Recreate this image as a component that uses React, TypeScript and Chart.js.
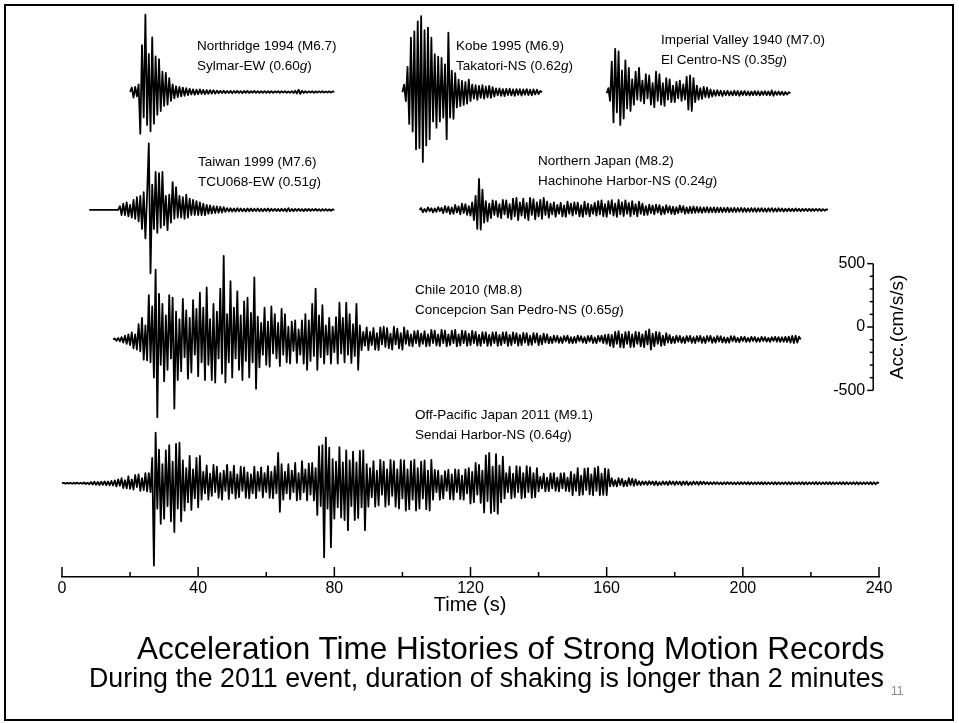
import React, { useEffect, useRef } from 'react';
import { Chart, registerables } from 'chart.js';

Chart.register(...registerables);

const FONT = "'Liberation Sans', Arial, Helvetica, sans-serif";

// ---- time axis ----
const X_MIN = 0;
const X_MAX = 240;
const X_TICKS = [0, 20, 40, 60, 80, 100, 120, 140, 160, 180, 200, 220, 240];
const X_LABELED = [0, 40, 80, 120, 160, 200, 240];

// ---- acceleration scale bar (cm/s/s) ----
const SCALE_TICKS = [-500, -400, -300, -200, -100, 0, 100, 200, 300, 400, 500];
const SCALE_LABELED = [500, 0, -500];

// ---- records: acceleration (cm/s/s), sampled every 0.5 s from each record's start time ----
const SAMPLE_STEP = 0.5;

const NORTHRIDGE = [
  0, 35, -45, 40, -35, 60, -330, 370, -200, 610,
  -260, 300, -310, 430, -250, 280, -180, 260, -150, 160,
  -110, 150, -100, 110, -70, 60, -50, 45, -40, 40,
  -35, 35, -30, 30, -25, 25, -20, 20, -22, 18,
  -18, 20, -15, 16, -18, 14, -14, 15, -12, 14,
  -13, 11, -10, 9, -8, 10, -9, 8, -8, 9,
  -10, 8, -7, 9, -8, 7, -9, 8, -7, 8,
  -8, 6, -6, 8, -7, 7, -8, 6, -6, 7,
  -7, 6, -6, 7, -7, 5, -5, 6, -6, 6,
  -5, 7, -6, 5, -7, 6, -8, 10, -12, 18,
  -15, 10, -8, 6, -6, 5, -5, 6, -6, 5,
  -5, 5, -4, 6, -5, 4, -4, 5, -5, 4,
  0,
];

const KOBE = [
  0, 60, -70, 200, -250, 430, -310, 480, -450, 560,
  -440, 600, -550, 490, -420, 510, -370, 430, -230, 300,
  -280, 280, -230, 270, -200, 220, -370, 470, -200, 170,
  -210, 150, -120, 100, -110, 90, -100, 80, -90, 100,
  -70, 60, -50, 55, -60, 50, -45, 55, -50, 45,
  -40, 50, -45, 40, -35, 30, -25, 30, -28, 25,
  -30, 26, -22, 28, -25, 22, -28, 25, -20, 24,
  -26, 22, -20, 25, -22, 20, -24, 22, -18, 20,
  -15, 10, 0,
];

const IMPERIAL_VALLEY = [
  0, 40, -60, 250, -230, 350, -150, 330, -250, 180,
  -200, 260, -120, 200, -140, 110, -90, 170, -50, 200,
  -60, 100, -80, 150, -40, 140, -90, 80, -110, 170,
  -60, 150, -90, 80, -100, 120, -50, 110, -70, 60,
  -70, 90, -40, 100, -60, 70, -50, 130, -130, 140,
  -140, 120, -70, 60, -50, 40, -45, 50, -30, 45,
  -35, 30, -25, 22, -20, 24, -18, 20, -22, 18,
  -16, 20, -18, 15, -17, 20, -15, 18, -20, 16,
  -14, 18, -16, 15, -18, 14, -15, 17, -14, 16,
  -18, 15, -13, 16, -15, 14, -16, 22, -20, 14,
  -12, 14, -13, 12, -14, 10, -10, 8, 0,
];

const TAIWAN = [
  0, 0, 0, 0, 0, 0, 0, 0, 0, 0,
  0, 0, 0, 0, 0, 0, 0, 0,
  30, -40, 50, -40, 60, -50, 40, -60, 80, -70,
  100, -90, 110, -150, 140, -225, 120, 525, -500, 200,
  -150, 300, -180, 290, -140, 300, -120, 110, -160, 120,
  -100, 220, -70, 180, -60, 110, -60, 100, -70, 120,
  -60, 90, -40, 80, -40, 70, -40, 60, -40, 50,
  -40, 40, -30, 35, -28, 30, -25, 28, -22, 25,
  -20, 22, -15, 14, -12, 13, -12, 11, -12, 13,
  -10, 12, -11, 10, -12, 11, -10, 12, -11, 10,
  -9, 11, -10, 9, -11, 10, -9, 12, -10, 9,
  -8, 10, -9, 8, -10, 9, -8, 10, -12, 14,
  -10, 8, -9, 8, -7, 9, -8, 7, -9, 8,
  -7, 8, -8, 7, -6, 8, -7, 6, -8, 7,
  -6, 7, -6, 5, -6, 5, 0,
];

const NORTHERN_JAPAN = [
  0, 15, -18, 8, -15, 20, -10, 14, -20, 12,
  -14, 22, -10, 16, -25, 30, -18, 25, -32, 20,
  -30, 40, -20, 28, -35, 50, -25, 45, -38, 30,
  -45, 60, -80, 110, -150, 245, -155, 160, -100, 70,
  -90, 50, -65, 75, -40, 70, -55, 45, -65, 80,
  -35, 75, -60, 45, -75, 90, -50, 95, -80, 60,
  -45, 90, -65, 55, -80, 95, -40, 85, -75, 60,
  -50, 80, -70, 95, -40, 65, -60, 50, -35, 60,
  -55, 40, -30, 55, -50, 35, -55, 65, -30, 50,
  -45, 60, -30, 58, -50, 35, -55, 65, -35, 50,
  -50, 40, -30, 55, -45, 70, -35, 75, -50, 45,
  -55, 70, -30, 78, -45, 50, -55, 80, -35, 60,
  -48, 75, -30, 55, -50, 70, -35, 45, -50, 65,
  -30, 50, -40, 30, -38, 42, -25, 35, -35, 42,
  -20, 38, -36, 25, -32, 38, -20, 30, -30, 25,
  -34, 22, -25, 35, -18, 30, -30, 20, -26, 25,
  -25, 27, -22, 24, -20, 22, -22, 20, -18, 22,
  -20, 19, -18, 20, -20, 18, -17, 19, -18, 16,
  -16, 18, -17, 15, -15, 17, -16, 15, -14, 16,
  -15, 14, -16, 13, -14, 15, -13, 14, -15, 13,
  -12, 14, -13, 12, -14, 13, -12, 14, -13, 11,
  -12, 13, -11, 12, -12, 10, -10, 12, -11, 10,
  -10, 11, -9, 10, -10, 9, -9, 10, -8, 9,
  -9, 8, -8, 9, -7, 8, -8, 7, -6, 5,
  0,
];

const CHILE = [
  0, 8, -10, 12, -15, 18, -25, 30, -35, 40,
  -45, 55, -70, 40, -80, 120, -95, 170, -160, 110,
  -165, 350, -180, 260, -300, 550, -615, 360, -200, 280,
  -330, 190, -240, 350, -150, 330, -545, 220, -320, 160,
  -250, 320, -140, 230, -310, 170, -260, 310, -120, 240,
  -290, 370, -180, 250, -320, 410, -200, 160, -320, 280,
  -340, 220, -150, 400, -270, 660, -340, 200, -180, 460,
  -300, 250, -150, 380, -240, 190, -320, 300, -170, 330,
  -300, 210, -180, 490, -390, 180, -220, 130, -120, 250,
  -200, 140, -215, 260, -110, 200, -150, 130, -210, 240,
  -120, 200, -180, 100, -190, 140, -90, 150, -185, 80,
  -120, 150, -190, 200, -240, 150, -170, 280, -130, 400,
  -240, 190, -140, 270, -190, 110, -120, 170, -190, 100,
  -100, 175, -190, 290, -110, 170, -180, 290, -120, 200,
  -185, 120, -130, 280, -240, 110, -85, 60, -50, 95,
  -85, 60, -45, 90, -80, 50, -85, 95, -40, 100,
  -60, 90, -70, 45, -80, 100, -40, 85, -70, 50,
  -80, 95, -35, 70, -50, 40, -55, 65, -30, 70,
  -55, 45, -35, 65, -55, 40, -50, 75, -30, 70,
  -48, 40, -52, 75, -30, 70, -55, 40, -45, 70,
  -30, 75, -55, 40, -48, 70, -30, 65, -50, 45,
  -45, 68, -30, 60, -48, 35, -50, 58, -30, 55,
  -50, 35, -48, 55, -30, 58, -50, 35, -45, 55,
  -30, 58, -50, 35, -45, 55, -30, 50, -48, 35,
  -45, 52, -25, 50, -45, 30, -42, 50, -25, 48,
  -44, 30, -38, 45, -25, 40, -30, 20, -28, 30,
  -18, 28, -26, 18, -28, 27, -15, 30, -28, 18,
  -30, 20, -26, 30, -15, 26, -25, 18, -30, 27,
  -17, 30, -28, 16, -30, 28, -16, 30, -28, 35,
  -35, 40, -50, 35, -60, 60, -35, 65, -60, 40,
  -65, 58, -35, 62, -60, 40, -58, 60, -35, 55,
  -55, 40, -60, 65, -40, 80, -80, 45, -55, 60,
  -35, 55, -50, 30, -45, 50, -25, 35, -30, 20,
  -28, 30, -18, 28, -26, 18, -28, 27, -16, 28,
  -27, 18, -28, 26, -16, 28, -26, 18, -28, 27,
  -15, 28, -27, 16, -25, 27, -16, 25, -24, 16,
  -26, 14, -25, 26, -14, 25, -20, 12, -22, 20,
  -12, 21, -20, 12, -18, 20, -12, 19, -19, 12,
  -18, 20, -12, 18, -17, 12, -19, 18, -12, 20,
  -17, 18, -19, 17, -18, 20, -20, 22, -25, 28,
  -28, 30, -25, 22, 0,
];

const OFF_PACIFIC = [
  0, 3, -4, 3, -3, 4, -4, 3, -3, 5,
  -5, 4, -4, 6, -6, 5, -8, 10, -10, 12,
  -12, 11, -14, 13, -12, 15, -15, 14, -16, 18,
  -18, 22, -25, 30, -20, 40, -38, 25, -40, 55,
  -45, 30, -50, 65, -30, 70, -60, 40, -55, 80,
  -65, 80, -70, 200, -650, 400, -200, 265, -320, 150,
  -280, 260, -180, 300, -300, 170, -385, 310, -200, 320,
  -300, 180, -215, 120, -150, 215, -210, 110, -120, 200,
  -190, 215, -130, 90, -80, 140, -130, 75, -100, 145,
  -70, 130, -115, 80, -130, 100, -60, 145, -125, 90,
  -80, 138, -120, 70, -110, 130, -60, 125, -115, 85,
  -120, 70, -80, 130, -118, 90, -60, 125, -112, 80,
  -70, 135, -115, 90, -118, 132, -80, 240, -225, 150,
  -130, 90, -80, 150, -125, 100, -70, 160, -135, 80,
  -128, 175, -70, 110, -135, 155, -90, 160, -135, 120,
  -250, 290, -180, 300, -585, 360, -200, 280, -505, 190,
  -280, 170, -190, 285, -270, 165, -290, 260, -370, 180,
  -180, 250, -290, 165, -275, 255, -190, 260, -370, 150,
  -185, 120, -110, 175, -185, 100, -175, 185, -90, 170,
  -185, 110, -170, 185, -100, 175, -185, 110, -200, 185,
  -120, 180, -215, 110, -205, 175, -130, 185, -215, 120,
  -200, 170, -120, 180, -205, 100, -215, 185, -130, 105,
  -70, 100, -130, 60, -120, 95, -60, 105, -125, 70,
  -130, 110, -70, 105, -125, 60, -130, 110, -80, 120,
  -160, 90, -150, 160, -90, 145, -155, 100, -230, 220,
  -140, 240, -235, 130, -220, 230, -240, 140, -150, 210,
  -120, 80, -70, 130, -120, 75, -110, 135, -70, 128,
  -120, 80, -112, 135, -70, 125, -115, 80, -110, 120,
  -65, 50, -40, 75, -65, 45, -62, 78, -40, 80,
  -60, 45, -65, 78, -40, 80, -60, 45, -65, 90,
  -95, 70, -60, 120, -95, 60, -90, 115, -55, 120,
  -88, 70, -95, 120, -60, 130, -95, 75, -92, 115,
  -95, 110, -25, 40, -22, 25, -25, 40, -15, 35,
  -24, 20, -22, 40, -15, 36, -20, 30, -15, 16,
  -14, 15, -10, 14, -13, 16, -9, 14, -14, 15,
  -16, 9, -13, 15, -10, 13, -14, 16, -9, 14,
  -13, 15, -9, 13, -15, 14, -10, 15, -14, 9,
  -12, 14, -9, 12, -12, 13, -8, 12, -8, 9,
  -9, 8, -8, 9, -7, 8, -8, 7, -9, 8,
  -8, 9, -7, 8, -8, 7, -9, 8, -8, 9,
  -7, 8, -8, 9, -9, 8, -8, 7, -7, 8,
  -8, 9, -9, 8, -8, 7, -7, 8, -8, 9,
  -9, 8, -8, 7, -7, 8, -8, 9, -9, 8,
  -8, 7, -7, 8, -8, 9, -9, 8, -8, 7,
  -7, 8, -8, 9, -9, 8, -8, 7, -7, 8,
  -8, 9, -9, 8, -8, 7, -7, 8, -8, 9,
  -9, 8, -8, 7, -7, 8, -8, 9, -9, 8,
  -8, 7, -7, 8, -8, 9, -9, 8, -8, 7,
  0,
];

// record start times (s) and vertical stacking offsets (cm/s/s)
const RECORDS = [
  { name: 'Northridge', start: 20, offset: 3828, values: NORTHRIDGE },
  { name: 'Kobe', start: 100, offset: 3826, values: KOBE },
  { name: 'Imperial Valley', start: 160, offset: 3818, values: IMPERIAL_VALLEY },
  { name: 'Taiwan', start: 8, offset: 2897, values: TAIWAN },
  { name: 'Northern Japan', start: 105, offset: 2897, values: NORTHERN_JAPAN },
  { name: 'Chile', start: 15, offset: 1875, values: CHILE },
  { name: 'Off-Pacific', start: 0, offset: 740, values: OFF_PACIFIC },
];

const Y_MAX = 4475;
const SCALE_BASE = 1973;
const SCALE_AT_TIME = 238.3;

const LABELS = [
  { event: 'Northridge 1994 (M6.7)', station: 'Sylmar-EW', pga: '0.60', left: 197, top: 36 },
  { event: 'Kobe 1995 (M6.9)', station: 'Takatori-NS', pga: '0.62', left: 456, top: 36 },
  { event: 'Imperial Valley 1940 (M7.0)', station: 'El Centro-NS', pga: '0.35', left: 661, top: 30 },
  { event: 'Taiwan 1999 (M7.6)', station: 'TCU068-EW', pga: '0.51', left: 198, top: 152 },
  { event: 'Northern Japan (M8.2)', station: 'Hachinohe Harbor-NS', pga: '0.24', left: 538, top: 151 },
  { event: 'Chile 2010 (M8.8)', station: 'Concepcion San Pedro-NS', pga: '0.65', left: 415, top: 280 },
  { event: 'Off-Pacific Japan 2011 (M9.1)', station: 'Sendai Harbor-NS', pga: '0.64', left: 415, top: 405 },
];

const TITLE = 'Acceleration Time Histories of Strong Motion Records';
const SUBTITLE = 'During the 2011 event, duration of shaking is longer than 2 minutes';
const X_TITLE = 'Time (s)';
const Y_TITLE = 'Acc.(cm/s/s)';
const PAGE = '11';

export default function App() {
  const canvasRef = useRef<HTMLCanvasElement>(null);

  useEffect(() => {
    const canvas = canvasRef.current;
    if (!canvas) return;

    const datasets = RECORDS.map((r) => ({
      label: r.name,
      data: r.values.map((v, i) => ({ x: r.start + i * SAMPLE_STEP, y: r.offset + v })),
      borderColor: '#000',
      borderWidth: 1.8,
      pointRadius: 0,
      tension: 0,
      fill: false,
      borderJoinStyle: 'round' as const,
      clip: false as any,
    }));

    const axisTicks = {
      id: 'axisTicks',
      afterDraw(chart: any) {
        const { ctx, chartArea } = chart;
        const xs = chart.scales.x;
        ctx.save();
        ctx.strokeStyle = '#000';
        ctx.lineWidth = 1.5;
        for (const v of X_TICKS) {
          const px = xs.getPixelForValue(v);
          const len = X_LABELED.includes(v) ? 10 : 5;
          ctx.beginPath();
          ctx.moveTo(px, chartArea.bottom);
          ctx.lineTo(px, chartArea.bottom - len);
          ctx.stroke();
        }
        ctx.restore();
      },
    };

    const scaleBar = {
      id: 'scaleBar',
      afterDraw(chart: any) {
        const { ctx } = chart;
        const xs = chart.scales.x;
        const ys = chart.scales.y;
        const px = xs.getPixelForValue(SCALE_AT_TIME);
        const top = ys.getPixelForValue(SCALE_BASE + SCALE_TICKS[SCALE_TICKS.length - 1]);
        const bottom = ys.getPixelForValue(SCALE_BASE + SCALE_TICKS[0]);
        ctx.save();
        ctx.strokeStyle = '#000';
        ctx.fillStyle = '#000';
        ctx.lineWidth = 1.5;
        ctx.beginPath();
        ctx.moveTo(px, top);
        ctx.lineTo(px, bottom);
        ctx.stroke();
        ctx.font = `16px ${FONT}`;
        ctx.textAlign = 'right';
        ctx.textBaseline = 'middle';
        for (const v of SCALE_TICKS) {
          const py = ys.getPixelForValue(SCALE_BASE + v);
          const major = SCALE_LABELED.includes(v);
          ctx.beginPath();
          ctx.moveTo(px - (major ? 6 : 3.5), py);
          ctx.lineTo(px, py);
          ctx.stroke();
          if (major) ctx.fillText(String(v), px - 8, py);
        }
        ctx.translate(px + 25, (top + bottom) / 2);
        ctx.rotate(-Math.PI / 2);
        ctx.textAlign = 'center';
        ctx.font = `19px ${FONT}`;
        ctx.fillText(Y_TITLE, 0, 0);
        ctx.restore();
      },
    };

    const chart = new Chart(canvas, {
      type: 'line',
      data: { datasets: datasets as any },
      options: {
        animation: false,
        responsive: false,
        events: [],
        layout: { padding: { left: 62, right: 80, top: 10, bottom: 106 } },
        plugins: { legend: { display: false }, tooltip: { enabled: false } },
        scales: {
          x: {
            type: 'linear',
            min: X_MIN,
            max: X_MAX,
            afterFit: (s: any) => {
              s.height = 40;
            },
            afterBuildTicks: (s: any) => {
              s.ticks = X_TICKS.map((v) => ({ value: v }));
            },
            ticks: {
              autoSkip: false,
              maxRotation: 0,
              padding: 2,
              color: '#000',
              font: { family: FONT, size: 16 },
              callback: (v: any) => (X_LABELED.includes(Number(v)) ? String(v) : ''),
            },
            grid: { display: false, drawTicks: false },
            border: { display: true, color: '#000', width: 1.5 },
          },
          y: { type: 'linear', display: false, min: 0, max: Y_MAX },
        },
      },
      plugins: [axisTicks, scaleBar],
    });
    return () => chart.destroy();
  }, []);

  return (
    <div
      style={{
        position: 'absolute',
        left: 0,
        top: 0,
        width: 959,
        height: 723,
        background: '#fff',
        overflow: 'hidden',
        fontFamily: FONT,
        color: '#000',
      }}
    >
      <canvas
        ref={canvasRef}
        width={959}
        height={723}
        style={{ position: 'absolute', left: 0, top: 0, width: 959, height: 723 }}
      />
      {LABELS.map((l) => (
        <div
          key={l.event}
          style={{
            position: 'absolute',
            left: l.left,
            top: l.top,
            fontSize: 13.5,
            lineHeight: '20px',
            whiteSpace: 'nowrap',
          }}
        >
          <div>{l.event}</div>
          <div>
            {l.station} ({l.pga}
            <i>g</i>)
          </div>
        </div>
      ))}
      <div
        style={{
          position: 'absolute',
          left: 470,
          top: 592,
          transform: 'translateX(-50%)',
          fontSize: 20,
          lineHeight: '24px',
          whiteSpace: 'nowrap',
        }}
      >
        {X_TITLE}
      </div>
      <div style={{ position: 'absolute', left: 137, top: 630, fontSize: 31.5, lineHeight: '36px', whiteSpace: 'nowrap' }}>
        {TITLE}
      </div>
      <div style={{ position: 'absolute', left: 89, top: 663, fontSize: 26.8, lineHeight: '30px', whiteSpace: 'nowrap' }}>
        {SUBTITLE}
      </div>
      <div style={{ position: 'absolute', left: 891, top: 684, fontSize: 12, lineHeight: '14px', color: '#888' }}>{PAGE}</div>
      <div
        style={{
          position: 'absolute',
          left: 4,
          top: 4,
          width: 950,
          height: 717,
          border: '2px solid #000',
          boxSizing: 'border-box',
        }}
      />
    </div>
  );
}
